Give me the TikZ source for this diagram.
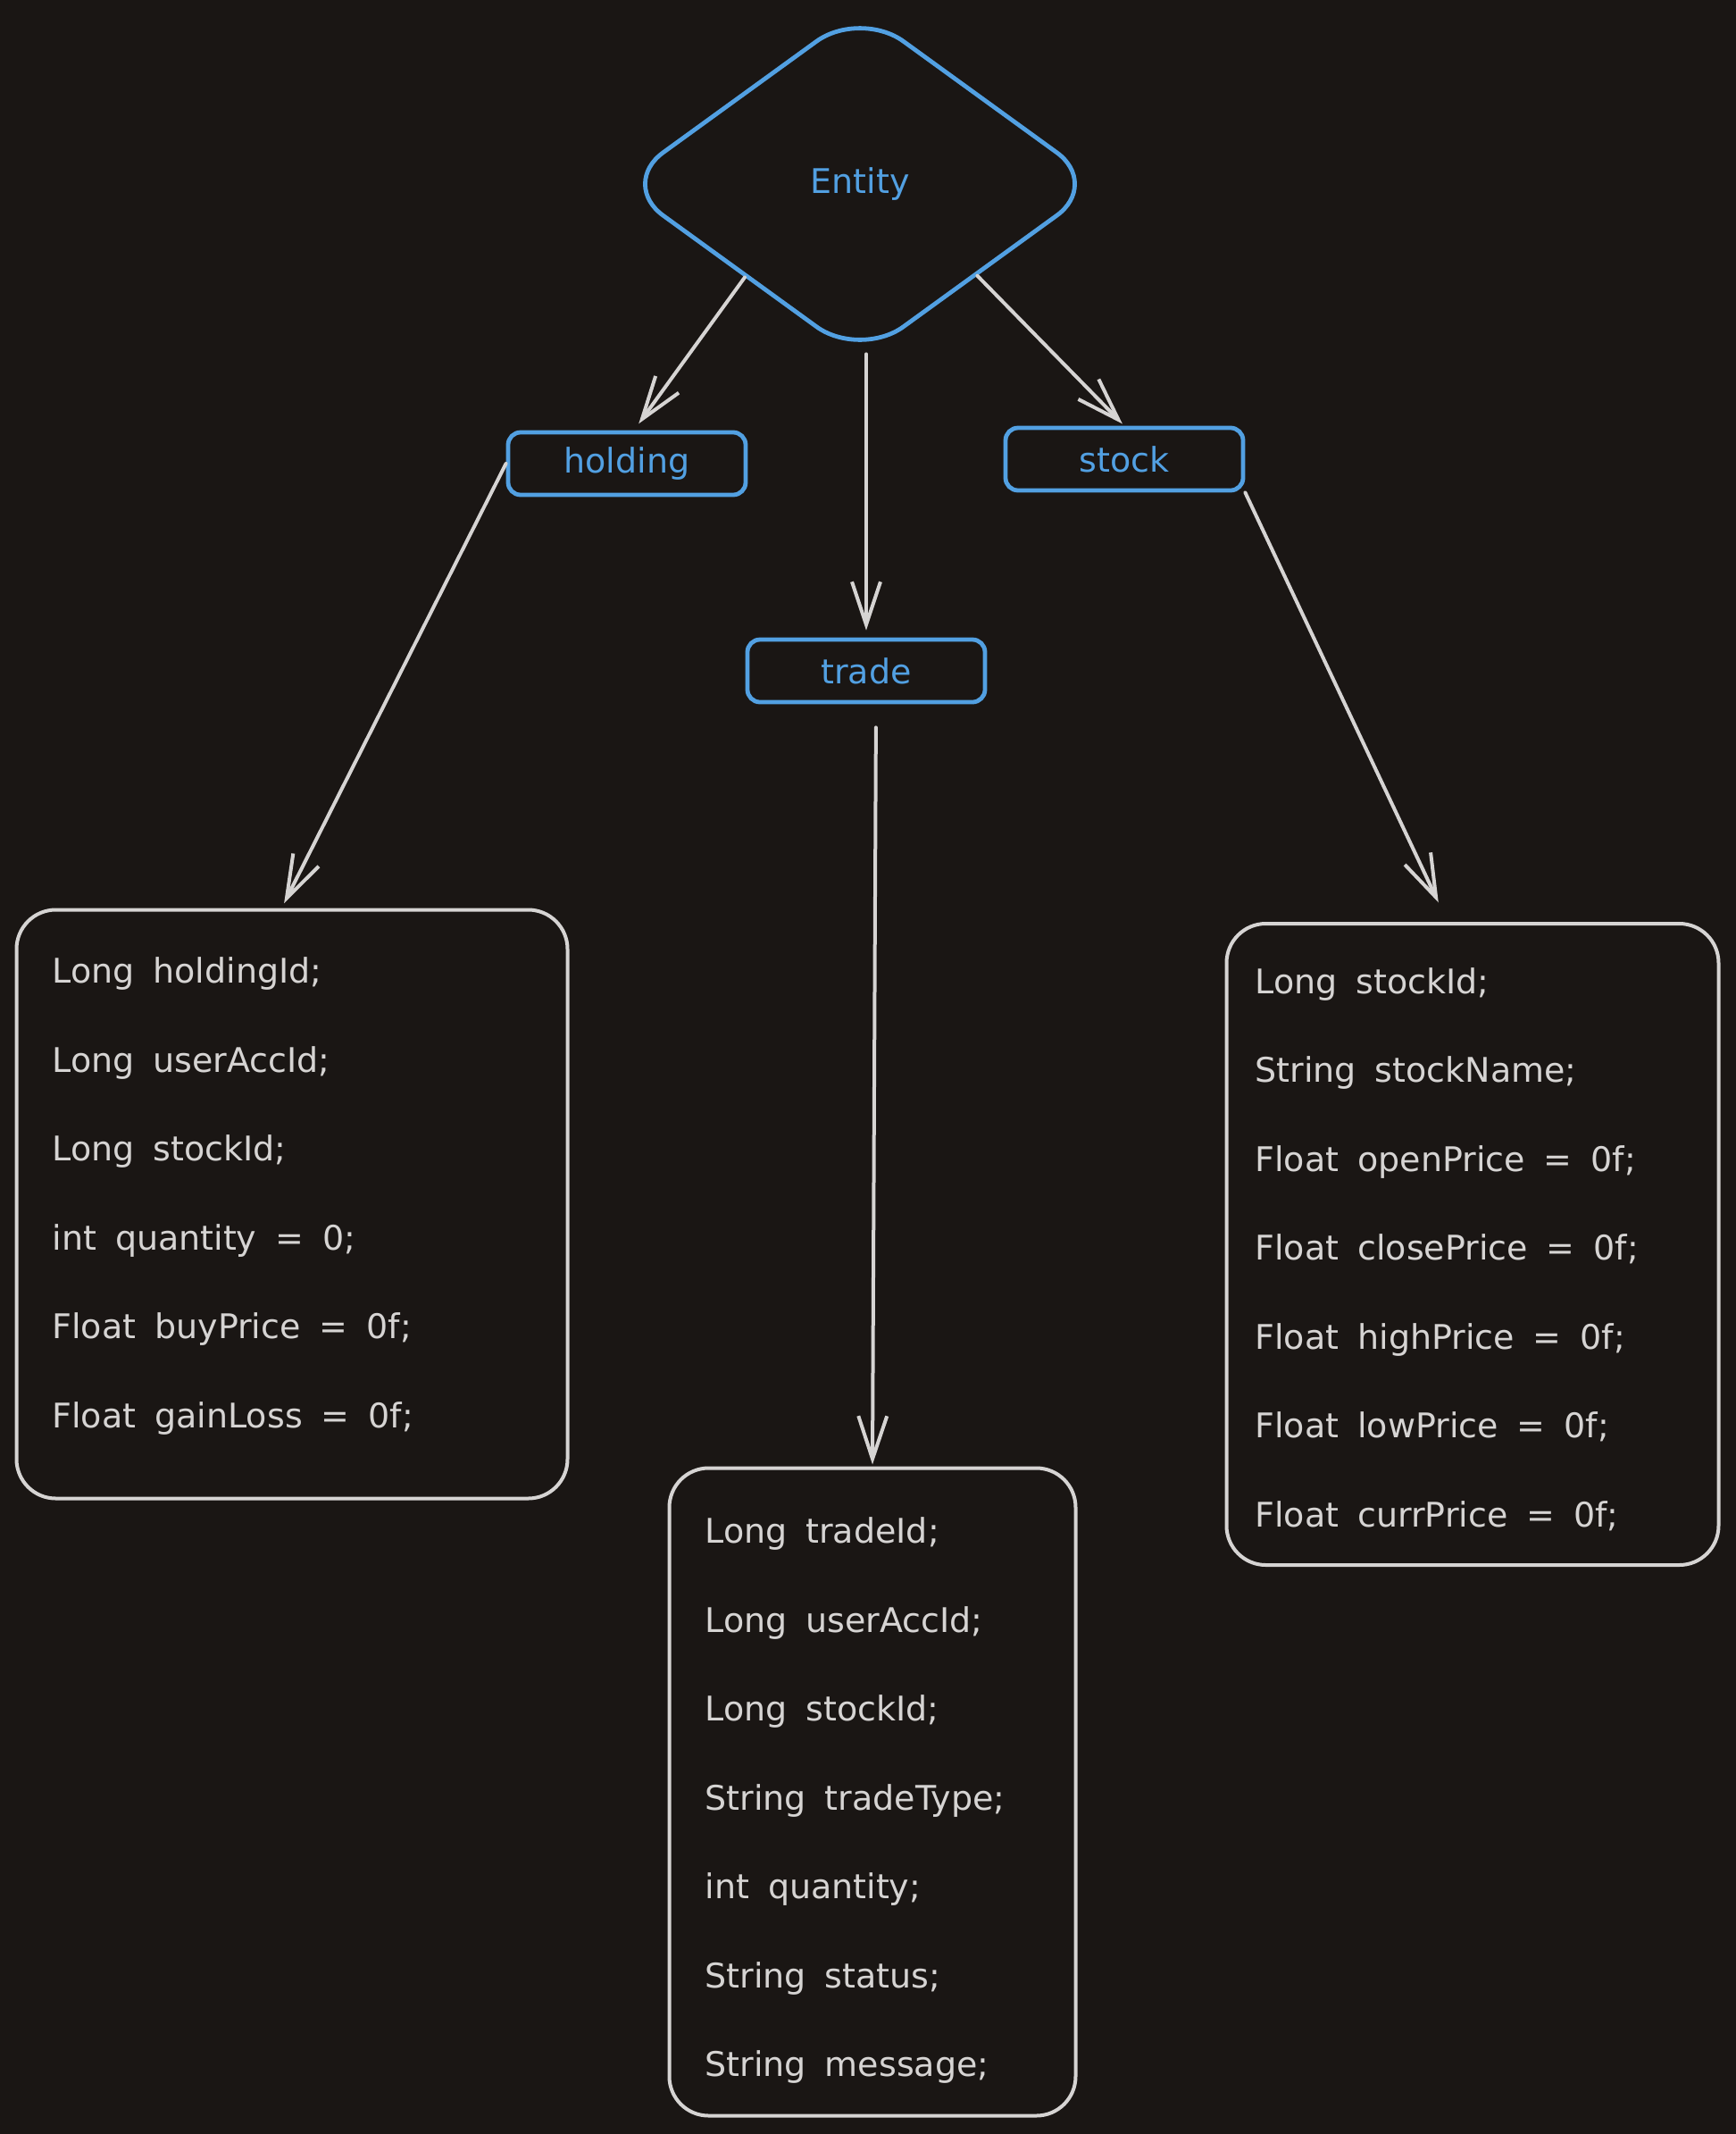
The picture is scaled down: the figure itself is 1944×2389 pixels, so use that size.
\documentclass[tikz,border=0pt]{standalone}
\usepackage{fontspec}
\setmainfont{DejaVu Sans}
\usepackage{tikz}
\usetikzlibrary{arrows.meta,shapes.geometric}
\definecolor{canvas}{HTML}{1A1614}
\definecolor{sketchblue}{HTML}{52A0E2}
\definecolor{chalk}{HTML}{D6D4D3}
\newcommand{\widespaces}{\spaceskip=10.5pt plus 1pt\relax\xspaceskip=\spaceskip}
\tikzset{
  entitynode/.style={
    diamond, draw=sketchblue, line width=2.4pt, rounded corners=30pt,
    minimum width=270pt, minimum height=196pt, inner sep=0pt,
    font=\fontsize{19}{23}\selectfont, text=sketchblue
  },
  tablebox/.style={
    rectangle, draw=sketchblue, line width=2.4pt, rounded corners=7pt,
    minimum width=133pt, minimum height=35pt, inner sep=0pt,
    font=\fontsize{19}{23}\selectfont, text=sketchblue
  },
  fieldbox/.style={
    rectangle, draw=chalk, line width=2pt, rounded corners=22pt,
    align=left, inner xsep=20pt, inner ysep=0pt,
    font=\fontsize{19}{49.75}\selectfont, text=chalk,
    execute at begin node=\widespaces
  },
  linkarrow/.style={
    -{Straight Barb[length=24pt,width=16pt]}, line width=2pt,
    draw=chalk, line cap=round, line join=round
  },
}

\begin{document}
\begin{tikzpicture}[x=0.5pt, y=-0.5pt]
  \fill[canvas] (0,0) rectangle (1944,2389);

  % Entity and its tables
  \node[entitynode] (entity) at (963,206) {Entity};
  \node[tablebox] (holding) at (702,519) {holding};
  \node[tablebox] (trade) at (970,751) {trade};
  \node[tablebox] (stock) at (1259,514) {stock};

  % Field lists
  \node[fieldbox, text width=268.5pt, minimum height=329.5pt] (holdingfields) at (327,1348)
    {Long holdingId;\\ Long userAccId;\\ Long stockId;\\ int quantity = 0;\\
     Float buyPrice = 0f;\\ Float gainLoss = 0f;\rule[-13pt]{0pt}{13pt}};
  \node[fieldbox, text width=187.5pt, minimum height=362.5pt] (tradefields) at (977,2006)
    {\rule{0pt}{24pt}Long tradeId;\\ Long userAccId;\\ Long stockId;\\ String tradeType;\\
     int quantity;\\ String status;\\ String message;};
  \node[fieldbox, inner xsep=16pt, text width=243.5pt, minimum height=359pt] (stockfields) at (1649,1393)
    {\rule{0pt}{20pt}Long stockId;\\ String stockName;\\ Float openPrice = 0f;\\ Float closePrice = 0f;\\
     Float highPrice = 0f;\\ Float lowPrice = 0f;\\ Float currPrice = 0f;};

  % Links
  \draw[linkarrow, shorten >=4.5pt] (entity.-141) -- (holding.78);
  \draw[linkarrow, shorten <=-4pt, shorten >=4pt] (trade.north |- entity.south) -- (trade.north);
  \draw[linkarrow, shorten >=1.5pt] (entity.-38) -- (stock.north);
  \draw[linkarrow, shorten >=3pt] (holding.west) -- (holdingfields.92);
  \draw[linkarrow, shorten <=13pt, shorten >=1pt] ([xshift=5.5pt]trade.south) -- (tradefields.north);
  \draw[linkarrow, shorten >=12pt] (stock.south east) -- ([xshift=-14pt]stockfields.north);
\end{tikzpicture}
\end{document}
